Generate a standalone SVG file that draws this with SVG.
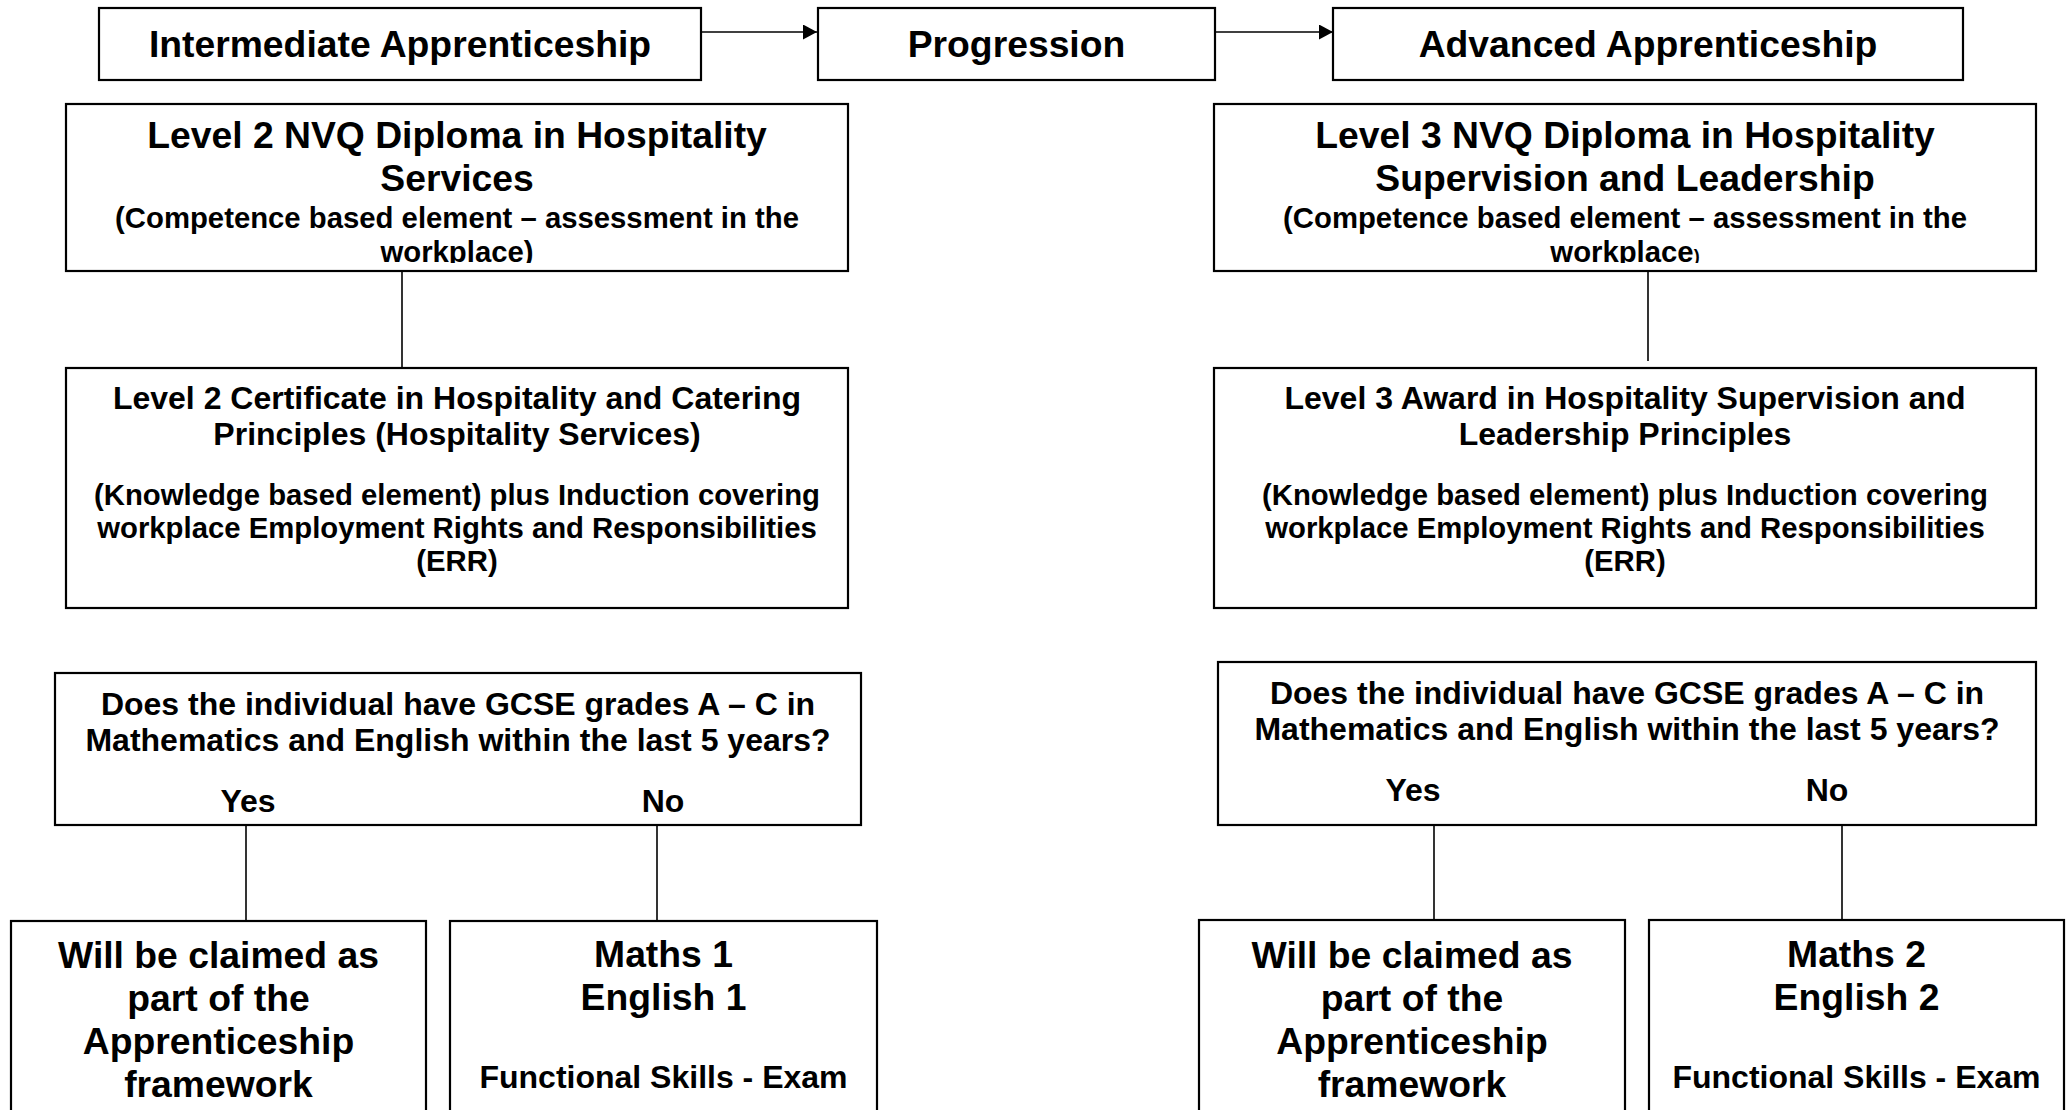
<svg xmlns="http://www.w3.org/2000/svg" width="2071" height="1110" viewBox="0 0 2071 1110">
<style>
  .box { fill: #ffffff; stroke: #000000; stroke-width: 2.2; }
  .t { font-family: "Liberation Sans", Arial, sans-serif; font-weight: bold; fill: #000000; text-anchor: middle; }
  .l { font-size: 37.3px; }
  .m { font-size: 32px; }
  .s { font-size: 29.3px; }
  .conn line { stroke: #000000; stroke-width: 1.6; fill: none; }
</style>
<defs>
  <marker id="arrow" viewBox="0 0 14 15" refX="14" refY="7.5" markerWidth="14" markerHeight="15" markerUnits="userSpaceOnUse" orient="auto">
    <path d="M0,0 L14,7.5 L0,15 z" fill="#000000"/>
  </marker>
  <clipPath id="clipL"><rect x="66" y="104" width="782" height="159"/></clipPath>
  <clipPath id="clipR"><rect x="1214" y="104" width="822" height="159"/></clipPath>
</defs>
<rect x="0" y="0" width="2071" height="1110" fill="#ffffff"/>

<g id="conn" class="conn">
  <line x1="701" y1="32" x2="817" y2="32" marker-end="url(#arrow)"/>
  <line x1="1215" y1="32" x2="1333" y2="32" marker-end="url(#arrow)"/>
  <line x1="402" y1="271" x2="402" y2="368"/>
  <line x1="1648" y1="271" x2="1648" y2="361"/>
  <line x1="246" y1="825" x2="246" y2="921"/>
  <line x1="657" y1="825" x2="657" y2="921"/>
  <line x1="1434" y1="825" x2="1434" y2="920"/>
  <line x1="1842" y1="825" x2="1842" y2="920"/>
</g>

<g id="intermediate">
  <rect class="box" x="99" y="8" width="602" height="72"/>
  <text class="t l" x="400" y="57">Intermediate Apprenticeship</text>
</g>
<g id="progression">
  <rect class="box" x="818" y="8" width="397" height="72"/>
  <text class="t l" x="1016.5" y="57">Progression</text>
</g>
<g id="advanced">
  <rect class="box" x="1333" y="8" width="630" height="72"/>
  <text class="t l" x="1648" y="57">Advanced Apprenticeship</text>
</g>

<g id="nvq2">
  <rect class="box" x="66" y="104" width="782" height="167"/>
  <g clip-path="url(#clipL)">
    <text class="t l" x="457" y="148">Level 2 NVQ Diploma in Hospitality</text>
    <text class="t l" x="457" y="191">Services</text>
    <text class="t s" x="457" y="228">(Competence based element – assessment in the</text>
    <text class="t s" x="457" y="262">workplace)</text>
  </g>
</g>
<g id="cert2">
  <rect class="box" x="66" y="368" width="782" height="240"/>
  <text class="t m" x="457" y="409">Level 2 Certificate in Hospitality and Catering</text>
  <text class="t m" x="457" y="445">Principles (Hospitality Services)</text>
  <text class="t s" x="457" y="505">(Knowledge based element) plus Induction covering</text>
  <text class="t s" x="457" y="538">workplace Employment Rights and Responsibilities</text>
  <text class="t s" x="457" y="571">(ERR)</text>
</g>
<g id="question2">
  <rect class="box" x="55" y="673" width="806" height="152"/>
  <text class="t m" x="458" y="715">Does the individual have GCSE grades A – C in</text>
  <text class="t m" x="458" y="751">Mathematics and English within the last 5 years?</text>
  <text class="t m" x="248" y="812">Yes</text>
  <text class="t m" x="663" y="812">No</text>
</g>
<g id="claimed2">
  <rect class="box" x="11" y="921" width="415" height="200"/>
  <text class="t l" x="218.5" y="968">Will be claimed as</text>
  <text class="t l" x="218.5" y="1011">part of the</text>
  <text class="t l" x="218.5" y="1054">Apprenticeship</text>
  <text class="t l" x="218.5" y="1097">framework</text>
</g>
<g id="fs1">
  <rect class="box" x="450" y="921" width="427" height="200"/>
  <text class="t l" x="663.5" y="967">Maths 1</text>
  <text class="t l" x="663.5" y="1010">English 1</text>
  <text class="t m" x="663.5" y="1088">Functional Skills - Exam</text>
</g>

<g id="nvq3">
  <rect class="box" x="1214" y="104" width="822" height="167"/>
  <g clip-path="url(#clipR)">
    <text class="t l" x="1625" y="148">Level 3 NVQ Diploma in Hospitality</text>
    <text class="t l" x="1625" y="191">Supervision and Leadership</text>
    <text class="t s" x="1625" y="228">(Competence based element – assessment in the</text>
    <text class="t s" x="1625" y="262">workplace<tspan style="font-size:18px">)</tspan></text>
  </g>
</g>
<g id="award3">
  <rect class="box" x="1214" y="368" width="822" height="240"/>
  <text class="t m" x="1625" y="409">Level 3 Award in Hospitality Supervision and</text>
  <text class="t m" x="1625" y="445">Leadership Principles</text>
  <text class="t s" x="1625" y="505">(Knowledge based element) plus Induction covering</text>
  <text class="t s" x="1625" y="538">workplace Employment Rights and Responsibilities</text>
  <text class="t s" x="1625" y="571">(ERR)</text>
</g>
<g id="question3">
  <rect class="box" x="1218" y="662" width="818" height="163"/>
  <text class="t m" x="1627" y="704">Does the individual have GCSE grades A – C in</text>
  <text class="t m" x="1627" y="740">Mathematics and English within the last 5 years?</text>
  <text class="t m" x="1413" y="801">Yes</text>
  <text class="t m" x="1827" y="801">No</text>
</g>
<g id="claimed3">
  <rect class="box" x="1199" y="920" width="426" height="200"/>
  <text class="t l" x="1412" y="968">Will be claimed as</text>
  <text class="t l" x="1412" y="1011">part of the</text>
  <text class="t l" x="1412" y="1054">Apprenticeship</text>
  <text class="t l" x="1412" y="1097">framework</text>
</g>
<g id="fs2">
  <rect class="box" x="1649" y="920" width="415" height="200"/>
  <text class="t l" x="1856.5" y="967">Maths 2</text>
  <text class="t l" x="1856.5" y="1010">English 2</text>
  <text class="t m" x="1856.5" y="1088">Functional Skills - Exam</text>
</g>
</svg>
